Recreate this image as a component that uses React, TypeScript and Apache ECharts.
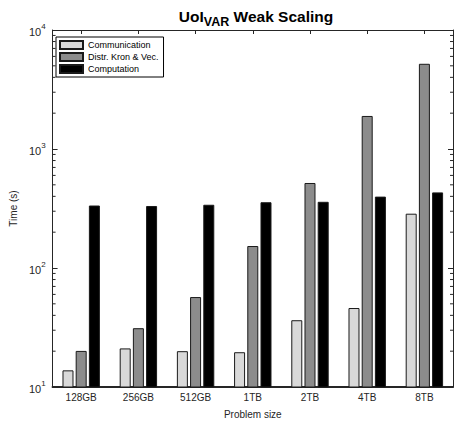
import React, { useEffect, useRef } from "react";
import * as echarts from "echarts";

const categories = ["128GB", "256GB", "512GB", "1TB", "2TB", "4TB", "8TB"];
const communication = [13.8, 21.1, 20.0, 19.6, 36.4, 46.1, 286];
const distrKronVec = [20.1, 31.2, 57, 153, 518, 1895, 5200];
const computation = [335, 332, 340, 357, 360, 398, 432];
const seriesNames = ["Communication", "Distr. Kron & Vec.", "Computation"];
const minorTickValues = [
  20, 30, 40, 50, 60, 70, 80, 90,
  200, 300, 400, 500, 600, 700, 800, 900,
  2000, 3000, 4000, 5000, 6000, 7000, 8000, 9000,
];

const FONT = "Liberation Sans, Arial, sans-serif";
const AX = "#262626";

export default function App() {
  const ref = useRef<HTMLDivElement>(null);
  useEffect(() => {
    if (!ref.current) return;
    const chart = echarts.init(ref.current, null, { renderer: "svg" });
    const barStyle = (color: string) => ({
      color,
      borderColor: "#1a1a1a",
      borderWidth: 1,
    });
    const tick = (len: number) => ({ show: true, inside: true, length: len, lineStyle: { color: AX, width: 1 } });
    const option: any = {
      animation: false,
      backgroundColor: "#fff",
      textStyle: { fontFamily: FONT },
      title: {
        text: "{a|UoI}{s|VAR}{a| Weak Scaling}",
        left: 251,
        top: 3,
        textAlign: "center",
        textStyle: {
          rich: {
            a: { fontSize: 15.5, fontWeight: "bold", color: "#000", fontFamily: FONT, verticalAlign: "top", lineHeight: 18 },
            s: { fontSize: 12.5, fontWeight: "bold", color: "#000", fontFamily: FONT, verticalAlign: "top", padding: [7, 0, 0, 0], lineHeight: 18 },
          },
        },
      },
      legend: {
        data: seriesNames,
        orient: "vertical",
        left: 56,
        top: 37,
        icon: "rect",
        itemWidth: 23,
        itemHeight: 8,
        itemGap: 2,
        padding: [3, 5, 3, 3],
        borderColor: "#000",
        borderWidth: 1,
        backgroundColor: "#fff",
        textStyle: { fontSize: 9, lineHeight: 10, color: "#000", fontFamily: FONT },
      },
      grid: { left: 49, right: 2, top: 30, bottom: 33, containLabel: false },
      xAxis: [
        {
          type: "category",
          data: categories,
          position: "bottom",
          name: "Problem size",
          nameLocation: "middle",
          nameGap: 22,
          nameTextStyle: { fontSize: 10, color: "#262626", fontFamily: FONT },
          axisLine: { show: true, lineStyle: { color: AX, width: 2 } },
          axisTick: { ...tick(4), alignWithLabel: true },
          axisLabel: { show: true, fontSize: 10, color: "#262626", margin: 5, fontFamily: FONT },
          splitLine: { show: false },
        },
        {
          type: "category",
          data: categories,
          position: "top",
          axisLine: { show: true, lineStyle: { color: AX, width: 1 } },
          axisTick: { ...tick(4), alignWithLabel: true },
          axisLabel: { show: false },
          splitLine: { show: false },
        },
      ],
      yAxis: [
        {
          type: "log",
          logBase: 10,
          min: 10,
          max: 10000,
          position: "left",
          name: "Time (s)",
          nameLocation: "middle",
          nameGap: 27,
          nameTextStyle: { fontSize: 10, color: "#262626", fontFamily: FONT },
          axisLine: { show: true, lineStyle: { color: AX, width: 1 } },
          axisTick: tick(5),
          axisLabel: {
            show: true,
            margin: 7,
            color: "#262626",
            formatter: (v: number) => `{base|10}{sup|${Math.round(Math.log10(v))}}`,
            rich: {
              base: { fontSize: 11, color: "#262626", fontFamily: FONT, verticalAlign: "bottom", lineHeight: 14 },
              sup: { fontSize: 8, color: "#262626", fontFamily: FONT, verticalAlign: "bottom", padding: [0, 0, 7, 0], lineHeight: 14 },
            },
          },
          splitLine: { show: false },
        },
        {
          type: "log",
          logBase: 10,
          min: 10,
          max: 10000,
          position: "right",
          axisLine: { show: true, lineStyle: { color: AX, width: 1 } },
          axisTick: tick(5),
          axisLabel: { show: false },
          splitLine: { show: false },
        },
      ],
      series: [
        {
          name: seriesNames[0],
          type: "bar",
          data: communication,
          barWidth: 11,
          barGap: "20%",
          itemStyle: barStyle("#d9d9d9"),
        },
        {
          name: seriesNames[1],
          type: "bar",
          data: distrKronVec,
          barWidth: 11,
          barGap: "20%",
          itemStyle: barStyle("#8c8c8c"),
        },
        {
          name: seriesNames[2],
          type: "bar",
          data: computation,
          barWidth: 11,
          barGap: "20%",
          itemStyle: barStyle("#000000"),
        },
        {
          name: "minorTicks",
          type: "custom",
          silent: true,
          clip: false,
          z: 10,
          xAxisIndex: 0,
          yAxisIndex: 0,
          data: minorTickValues.map((v) => [0, v]),
          encode: { x: 0, y: 1 },
          renderItem: (params: any, api: any) => {
            const cs = params.coordSys;
            const y = api.coord([0, api.value(1)])[1];
            const style = { stroke: AX, lineWidth: 1, fill: null };
            return {
              type: "group",
              children: [
                { type: "line", shape: { x1: cs.x, y1: y, x2: cs.x + 3, y2: y }, style },
                { type: "line", shape: { x1: cs.x + cs.width - 3, y1: y, x2: cs.x + cs.width, y2: y }, style },
              ],
            };
          },
        },
      ],
    };
    chart.setOption(option);
    return () => chart.dispose();
  }, []);
  return <div ref={ref} style={{ width: 455, height: 424, position: "absolute", left: 0, top: 0 }} />;
}
